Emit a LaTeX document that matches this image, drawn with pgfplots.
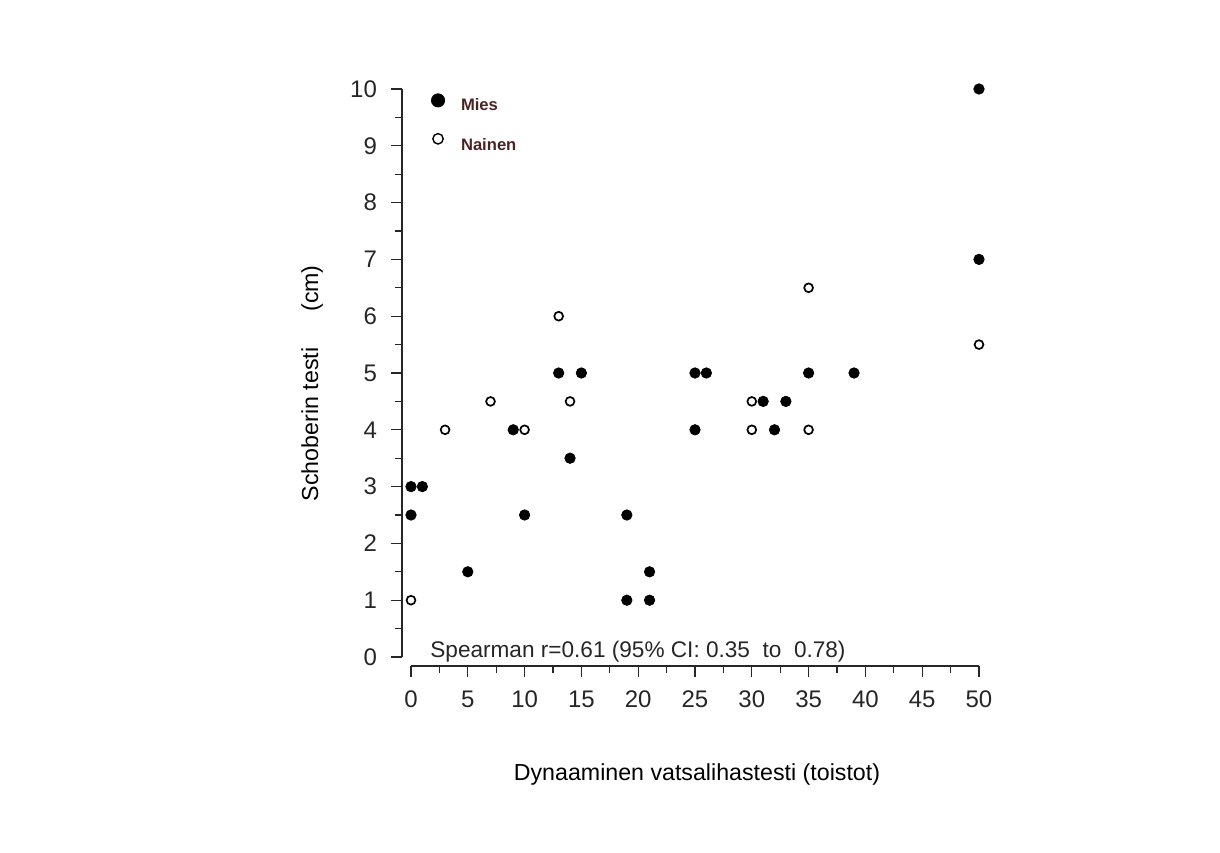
\documentclass[border=0pt]{standalone}
\usepackage{pgfplots}
\pgfplotsset{compat=1.18}
\usepackage{fontspec}
\setmainfont{Liberation Sans}
\definecolor{legtxt}{RGB}{75,35,35}
\pgfplotstableread{
x y
0 3
0 2.5
1 3
5 1.5
9 4
10 2.5
13 5
15 5
14 3.5
19 2.5
19 1
21 1.5
21 1
25 5
26 5
25 4
31 4.5
32 4
33 4.5
35 5
39 5
50 10
50 7
}\mies
\pgfplotstableread{
x y
0 1
3 4
7 4.5
10 4
13 6
14 4.5
30 4.5
30 4
35 6.5
35 4
50 5.5
}\nainen
\begin{document}
\begin{tikzpicture}
\begin{axis}[
  scale only axis, width=284pt, height=284pt,
  xmin=0, xmax=50, ymin=0, ymax=10,
  axis x line*=bottom, axis y line*=left,
  axis x line shift=4.5pt, axis y line shift=4.5pt,
  axis line style={-, line width=0.6pt, black!85},
  xtick={0,5,...,50}, minor xtick={2.5,7.5,...,47.5},
  ytick={0,1,...,10}, minor ytick={0.5,1.5,...,9.5},
  tick align=outside, major tick length=5.5pt, minor tick length=3.5pt,
  every tick/.style={line width=0.6pt, black!85},
  /pgf/number format/assume math mode=true,
  ticklabel style={font=\fontsize{12}{14}\selectfont, text=black!85},
  xticklabel style={yshift=-3.5pt},
  yticklabel style={xshift=-3.5pt},
  xlabel={Dynaaminen vatsalihastesti (toistot)},
  ylabel={Schoberin testi\quad\ \ (cm)},
  label style={font=\fontsize{11.6}{14}\selectfont},
  xlabel style={at={(rel axis cs:0.5035,-0.206)}, anchor=center},
  ylabel style={at={(rel axis cs:-0.174,0.482)}, anchor=center},
  clip=false,
  legend style={draw=none, fill=none, at={(rel axis cs:0.024,1.000)}, anchor=north west,
    font=\bfseries\fontsize{8.3}{9}\selectfont, text=legtxt, row sep=7.5pt,
    legend cell align=left},
]
\addlegendimage{legend image code/.code={\fill[black] (0pt,3pt) circle (3.3pt); \path (9.3pt,0pt);}}
\addlegendentry{Mies}
\addlegendimage{legend image code/.code={\draw[black, line width=0.7pt] (0pt,3.5pt) circle (2.6pt); \path (9.3pt,0pt);}}
\addlegendentry{Nainen}
\addplot[only marks, mark=*, mark size=2.6pt, black, forget plot] table[x=x,y=y] {\mies};
\addplot[only marks, mark=o, mark size=2.2pt, black, line width=0.85pt, mark options={fill=white}, forget plot] table[x=x,y=y] {\nainen};
\node[anchor=base west, font=\fontsize{11.3}{13}\selectfont, text=black!85, inner sep=0pt] at (axis cs:1.67,0) {Spearman r=0.61 (95\% CI: 0.35\ \ to\ \ 0.78)};
\coordinate (O) at (rel axis cs:0,0);
\end{axis}
\path (O) ++(-205.5pt,-97.5pt) rectangle ++(610pt,426pt);
\end{tikzpicture}
\end{document}
